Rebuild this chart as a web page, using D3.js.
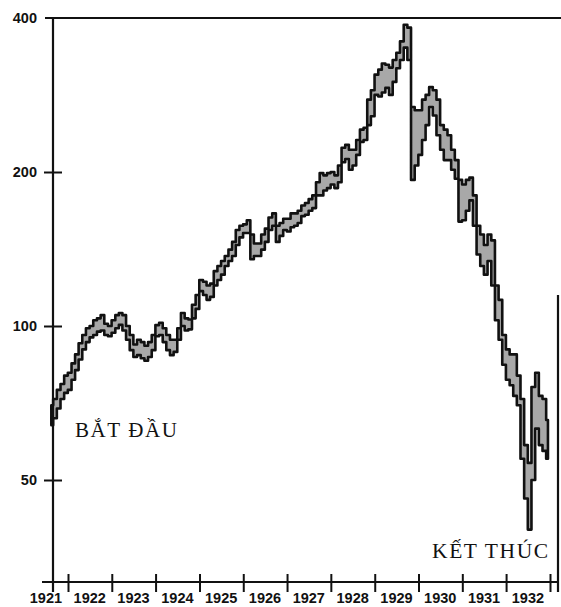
<!DOCTYPE html>
<html>
<head>
<meta charset="utf-8">
<title>Dow Jones 1921 - 1932</title>
<style>
    body { margin: 0; background: #fff; }
    svg { display: block; }
</style>
</head>
<body>
<main></main>
<script src="https://cdn.jsdelivr.net/npm/d3@7"></script>
<script>
    // data ==============================
    // monthly low / high of the index, from Aug 1921 to Dec 1932
    var firstMonth = "1921-08";
    var lows = [
        64, 66, 69, 72, 74,                                               // 1921
        75, 78.5, 82, 86, 90, 93, 95, 96, 97.5, 98, 96, 95.5,             // 1922
        97, 99, 100.5, 98, 94, 89.7, 87, 87.7, 86.5, 85.5, 87, 89.7,      // 1923
        95.5, 96, 93, 89.7, 87.7, 89, 94, 100, 98, 98.5, 103.5, 108,      // 1924
        117, 115, 112.5, 114, 120, 123, 126, 131, 134, 137, 144, 149,     // 1925
        152, 152, 135, 137, 137, 141, 146, 154, 157, 146, 150, 154,       // 1926
        153, 156, 157, 159, 164, 165, 168, 170, 180, 180, 184, 186,       // 1927
        189, 186, 191, 209, 212, 202, 206, 216, 229, 231, 247, 257,       // 1928
        283, 281, 286, 292, 283, 300, 319, 331, 350, 331, 193, 206,       // 1929
        216, 231, 247, 268, 258, 236, 221, 211, 211, 202, 194, 160,       // 1930
        161, 168, 176, 157, 138, 131, 126, 134, 120, 102.6, 94, 84,       // 1931
        78.5, 76.6, 73, 70, 55, 46, 40, 50, 63, 58.5, 57, 55              // 1932
    ];
    var highs = [
        70, 72, 75, 77, 80,
        81, 84.5, 88, 92.5, 96, 99, 100, 102.6, 103.5, 105, 101, 100,
        102.6, 105, 106, 105, 100, 96, 92, 94, 93, 91.5, 93, 96,
        100.4, 101.5, 99, 96, 94, 94, 99, 106, 103.5, 103, 110, 115,
        123, 122, 120, 121, 128, 131, 134, 137, 141, 146, 154, 157,
        158, 161, 151, 145, 145, 151, 155, 163, 166, 157, 159, 162,
        162, 166, 166, 168, 172, 174, 177, 180, 191, 199, 197, 199,
        200, 197, 206, 223, 226, 221, 221, 231, 242, 244, 277, 289,
        310, 317, 326, 324, 320, 331, 342, 360, 388, 383, 268, 264,
        264, 277, 283, 293, 289, 277, 247, 242, 236, 221, 211, 193,
        189, 193, 195, 180, 157, 151, 144, 151, 147, 120, 112.5, 96,
        90, 88, 88, 80, 72, 58.5, 54, 76, 81, 73, 72, 65.5
    ];
    var yTicks = [50, 100, 200, 400];
    var years = [1921, 1922, 1923, 1924, 1925, 1926, 1927, 1928, 1929, 1930, 1931, 1932];
    var startLabel = "BẮT ĐẦU";
    var endLabel = "KẾT THÚC";

    // sizes =============================
    var width = 561;
    var height = 607;
    var axisX = 53;    // vertical axis
    var axisY = 582;   // horizontal axis
    var topY = 18;

    var svg = d3.select("main")
        .append("svg")
        .attr("width", width)
        .attr("height", height);

    // scales ============================
    var x = d3.scaleTime()
        .domain([new Date(1922, 0, 1), new Date(1933, 0, 1)])
        .range([68, 550]);
    var y = d3.scaleLog()
        .domain([50, 400])
        .range([480, topY]);

    var start = d3.timeParse("%Y-%m")(firstMonth);
    var data = lows.map(function (d, i) {
        return {
            date: d3.timeDay.offset(d3.timeMonth.offset(start, i), 14),
            low: d,
            high: highs[i]
        };
    });

    // band ==============================
    var area = d3.area()
        .curve(d3.curveStep)
        .x(function (d) { return x(d.date); })
        .y0(function (d) { return y(d.low); })
        .y1(function (d) { return y(d.high); });

    svg.append("path")
        .datum(data)
        .attr("d", area)
        .attr("fill", "#a8a8a8")
        .attr("stroke", "#111")
        .attr("stroke-width", 2.6)
        .attr("stroke-linejoin", "round");

    // frame =============================
    var frame = svg.append("g")
        .attr("stroke", "#111")
        .attr("stroke-width", 2.2)
        .attr("fill", "none");
    frame.append("path").attr("d", "M45," + topY + "H561");
    frame.append("path").attr("d", "M" + axisX + "," + topY + "V592");
    frame.append("path").attr("d", "M42," + axisY + "H558");
    frame.append("path").attr("d", "M558,295V592");

    // y axis ============================
    var yAxis = svg.append("g")
        .attr("transform", "translate(" + axisX + ",0)")
        .call(d3.axisLeft(y).tickValues(yTicks.slice(0, 3)).tickFormat("").tickSize(9));
    yAxis.select(".domain").remove();
    yAxis.selectAll("line").attr("x1", 9).attr("stroke", "#111").attr("stroke-width", 2);

    svg.append("g")
        .selectAll("text")
        .data(yTicks)
        .enter()
        .append("text")
        .attr("x", 37)
        .attr("y", function (d) { return y(d); })
        .attr("dy", "0.36em")
        .attr("text-anchor", "end")
        .attr("font-family", "'Liberation Sans', Arial, sans-serif")
        .attr("font-weight", "bold")
        .attr("font-size", "14.5px")
        .attr("fill", "#111")
        .text(function (d) { return d; });

    // x axis ============================
    var bounds = years.map(function (d) { return new Date(d + 1, 0, 1); });
    var xAxis = svg.append("g")
        .attr("transform", "translate(0," + axisY + ")")
        .call(d3.axisBottom(x).tickValues(bounds).tickFormat("").tickSize(10));
    xAxis.select(".domain").remove();
    xAxis.selectAll("line").attr("y1", -8).attr("stroke", "#111").attr("stroke-width", 2);

    svg.append("g")
        .selectAll("text")
        .data(years)
        .enter()
        .append("text")
        .attr("x", function (d) { return x(new Date(d, 6, 1)); })
        .attr("y", 603)
        .attr("text-anchor", "middle")
        .attr("font-family", "'Liberation Sans', Arial, sans-serif")
        .attr("font-weight", "bold")
        .attr("font-size", "14.5px")
        .attr("fill", "#111")
        .text(function (d) { return d; });

    // labels ============================
    svg.append("text")
        .attr("x", 75)
        .attr("y", 437)
        .attr("font-family", "'Liberation Serif', 'DejaVu Serif', serif")
        .attr("font-size", "21px")
        .attr("letter-spacing", "1.6px")
        .attr("fill", "#111")
        .text(startLabel);

    svg.append("text")
        .attr("x", 432)
        .attr("y", 558)
        .attr("font-family", "'Liberation Serif', 'DejaVu Serif', serif")
        .attr("font-size", "21.5px")
        .attr("letter-spacing", "1.6px")
        .attr("fill", "#111")
        .text(endLabel);
</script>
</body>
</html>
